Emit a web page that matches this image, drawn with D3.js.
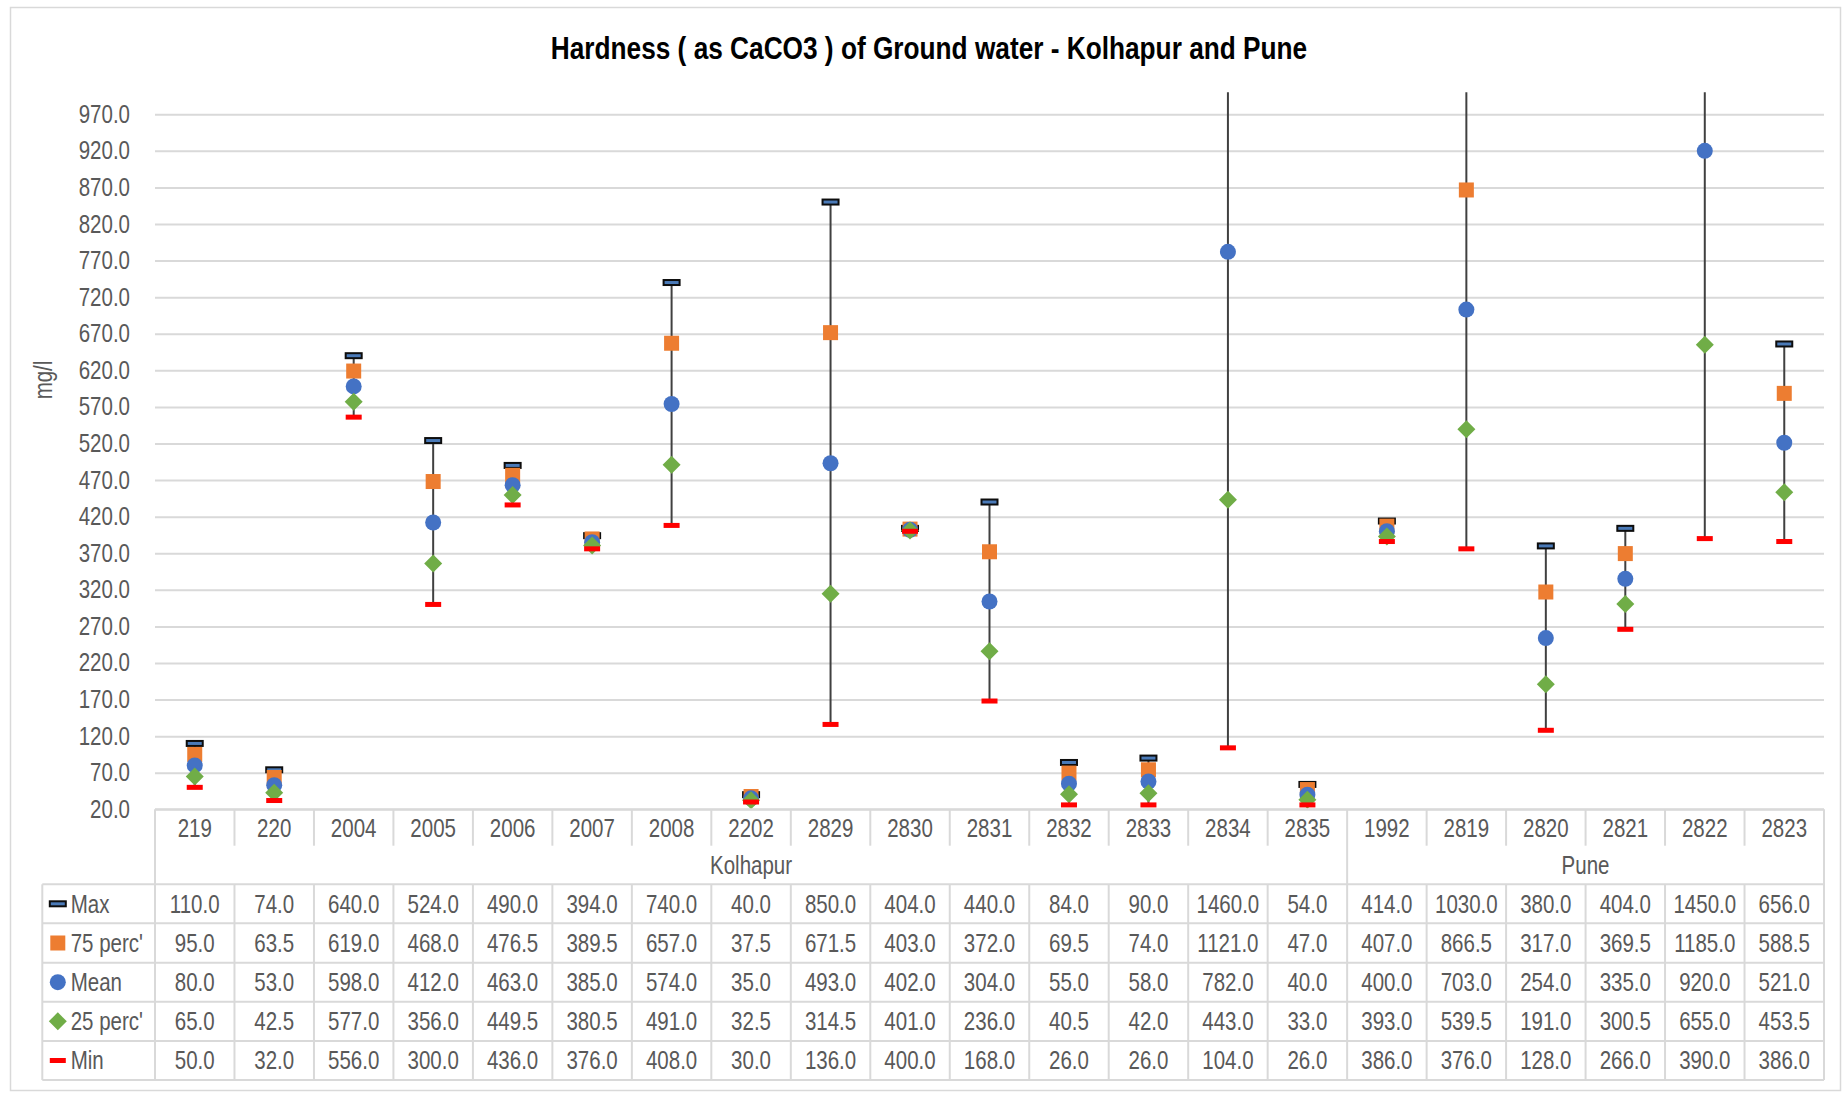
<!DOCTYPE html>
<html>
<head>
<meta charset="utf-8">
<script src="https://cdn.jsdelivr.net/npm/d3@7"></script>
<style>
  html, body { margin: 0; padding: 0; background: #fff; }
  svg { display: block; }
  text { font-family: 'Liberation Sans Narrow', 'Arial Narrow', 'Liberation Sans', Arial, sans-serif; }
</style>
</head>
<body>
<script>
const categories = ["219","220","2004","2005","2006","2007","2008","2202","2829","2830","2831","2832","2833","2834","2835","1992","2819","2820","2821","2822","2823"];
const groupNames = ["Kolhapur", "Pune"];
const groupSizes = [15, 6];
const maxVals  = [110,74,640,524,490,394,740,40,850,404,440,84,90,1460,54,414,1030,380,404,1450,656];
const p75Vals  = [95,63.5,619,468,476.5,389.5,657,37.5,671.5,403,372,69.5,74,1121,47,407,866.5,317,369.5,1185,588.5];
const meanVals = [80,53,598,412,463,385,574,35,493,402,304,55,58,782,40,400,703,254,335,920,521];
const p25Vals  = [65,42.5,577,356,449.5,380.5,491,32.5,314.5,401,236,40.5,42,443,33,393,539.5,191,300.5,655,453.5];
const minVals  = [50,32,556,300,436,376,408,30,136,400,168,26,26,104,26,386,376,128,266,390,386];
const seriesNames = ["Max", "75 perc'", "Mean", "25 perc'", "Min"];
const yTicks = d3.range(20, 1000, 50);
const title = "Hardness ( as CaCO3 ) of Ground water - Kolhapur and Pune";
const yTitle = "mg/l";

const W = 1848, H = 1093;
const L = 155, R = 1824, T = 92.3, B = 809.3;
const tableLeft = 42.3;
const rowTops = [884.3, 923.3, 962.7, 1001.7, 1041, 1080];
const gridColor = "#d9d9d9", textColor = "#595959";
const FS = 25;
const NARROW = 0.82; // emulate a condensed face

const svg = d3.select("body").append("svg").attr("width", W).attr("height", H);

// chart border
svg.append("rect").attr("x", 10.5).attr("y", 7.5).attr("width", 1830).attr("height", 1083)
  .attr("fill", "#fff").attr("stroke", gridColor).attr("stroke-width", 1.5);

const x = d3.scaleBand().domain(categories).range([L, R]).padding(0);
const y = d3.scaleLinear().domain([20, 1000]).range([B, T]);

// gridlines
const grid = svg.append("g").attr("transform", `translate(${L},0)`)
  .call(d3.axisLeft(y).tickValues(yTicks).tickSize(-(R - L)).tickFormat(""));
grid.select(".domain").remove();
grid.selectAll("line").attr("stroke", gridColor).attr("stroke-width", 2);

// y axis labels
const yAxis = svg.append("g").attr("transform", `translate(${L},0)`)
  .call(d3.axisLeft(y).tickValues(yTicks).tickSize(0).tickPadding(25).tickFormat(d3.format(".1f")));
yAxis.select(".domain").remove();
yAxis.selectAll("text").attr("font-size", FS).attr("fill", textColor)
  .style("font-family", "'Liberation Sans Narrow', 'Arial Narrow', 'Liberation Sans', Arial, sans-serif");

// title
svg.append("text").attr("x", 929).attr("y", 59.3).attr("text-anchor", "middle")
  .attr("font-size", 32).attr("font-weight", "bold").attr("fill", "#000").text(title);

// y title
svg.append("text").attr("transform", "translate(52,380) rotate(-90)")
  .attr("text-anchor", "middle").attr("font-size", FS).attr("fill", textColor).text(yTitle);

// clip
svg.append("clipPath").attr("id", "plotclip").append("rect")
  .attr("x", L).attr("y", T).attr("width", R - L).attr("height", B - T + 6);

const plot = svg.append("g").attr("clip-path", "url(#plotclip)");
const cx = d => x(d) + x.bandwidth() / 2;

// high-low lines
plot.selectAll("line.hl").data(categories).join("line")
  .attr("x1", cx).attr("x2", cx)
  .attr("y1", (d, i) => y(maxVals[i])).attr("y2", (d, i) => y(minVals[i]))
  .attr("stroke", "#404040").attr("stroke-width", 2);

function drawMarker(g, kind, px, py) {
  if (kind === 0) {
    g.append("rect").attr("x", px - 8).attr("y", py - 2.5).attr("width", 16).attr("height", 5)
      .attr("fill", "#4a7ab8").attr("stroke", "#0d0d0d").attr("stroke-width", 2);
  } else if (kind === 1) {
    g.append("rect").attr("x", px - 7.5).attr("y", py - 7.5).attr("width", 15).attr("height", 15)
      .attr("fill", "#ed7d31");
  } else if (kind === 2) {
    g.append("circle").attr("cx", px).attr("cy", py).attr("r", 8).attr("fill", "#4472c4");
  } else if (kind === 3) {
    g.append("path").attr("d", `M${px},${py - 9}L${px + 9},${py}L${px},${py + 9}L${px - 9},${py}Z`)
      .attr("fill", "#70ad47");
  } else {
    g.append("rect").attr("x", px - 8).attr("y", py - 2.5).attr("width", 16).attr("height", 5)
      .attr("fill", "#ff0000");
  }
}

const allSeries = [maxVals, p75Vals, meanVals, p25Vals, minVals];
allSeries.forEach((vals, si) => {
  const g = plot.append("g");
  categories.forEach((c, i) => drawMarker(g, si, cx(c), y(vals[i])));
});

// ---------- data table ----------
const tbl = svg.append("g");
const hline = (x1, x2, yy) => tbl.append("line").attr("x1", x1).attr("x2", x2).attr("y1", yy).attr("y2", yy)
  .attr("stroke", gridColor).attr("stroke-width", 2);
const vline = (xx, y1, y2) => tbl.append("line").attr("x1", xx).attr("x2", xx).attr("y1", y1).attr("y2", y2)
  .attr("stroke", gridColor).attr("stroke-width", 2);

hline(L, R, B);
rowTops.forEach(t => hline(tableLeft, R, t));
vline(L, B, rowTops[5]);
vline(R, B, rowTops[5]);
vline(tableLeft, rowTops[0], rowTops[5]);
let acc = 0;
const groupBounds = groupSizes.map(s => { const a = acc; acc += s; return [a, acc]; });
categories.forEach((c, i) => {
  if (i === 0) return;
  const isGroupEdge = groupBounds.some(b => b[0] === i);
  vline(x(c), B, isGroupEdge ? rowTops[0] : 845.7);
  vline(x(c), rowTops[0], rowTops[5]);
});

// category labels
tbl.selectAll("text.cat").data(categories).join("text")
  .attr("x", cx).attr("y", 828).attr("dy", "0.35em").attr("text-anchor", "middle")
  .attr("font-size", FS).attr("fill", textColor).text(d => d);

// group labels
groupNames.forEach((gname, gi) => {
  const b = groupBounds[gi];
  const x0 = x(categories[b[0]]), x1 = x(categories[b[1] - 1]) + x.bandwidth();
  tbl.append("text").attr("x", (x0 + x1) / 2).attr("y", 865.5).attr("dy", "0.35em")
    .attr("text-anchor", "middle").attr("font-size", FS).attr("fill", textColor).text(gname);
});

// rows
allSeries.forEach((vals, si) => {
  const cy = (rowTops[si] + rowTops[si + 1]) / 2;
  const kg = tbl.append("g");
  drawMarker(kg, si, 57.8, cy);
  tbl.append("text").attr("x", 70.7).attr("y", cy).attr("dy", "0.35em")
    .attr("font-size", FS).attr("fill", textColor).text(seriesNames[si]);
  tbl.selectAll(null).data(categories).join("text")
    .attr("x", cx).attr("y", cy).attr("dy", "0.35em").attr("text-anchor", "middle")
    .attr("font-size", FS).attr("fill", textColor).text((d, i) => d3.format(".1f")(vals[i]));
});

// condense all text horizontally around its anchor
svg.selectAll("text").each(function () {
  const t = d3.select(this);
  const xx = +t.attr("x") || 0;
  const prev = t.attr("transform") || "";
  t.attr("transform", `${prev} translate(${xx * (1 - NARROW)},0) scale(${NARROW},1)`.trim());
});
</script>
</body>
</html>
